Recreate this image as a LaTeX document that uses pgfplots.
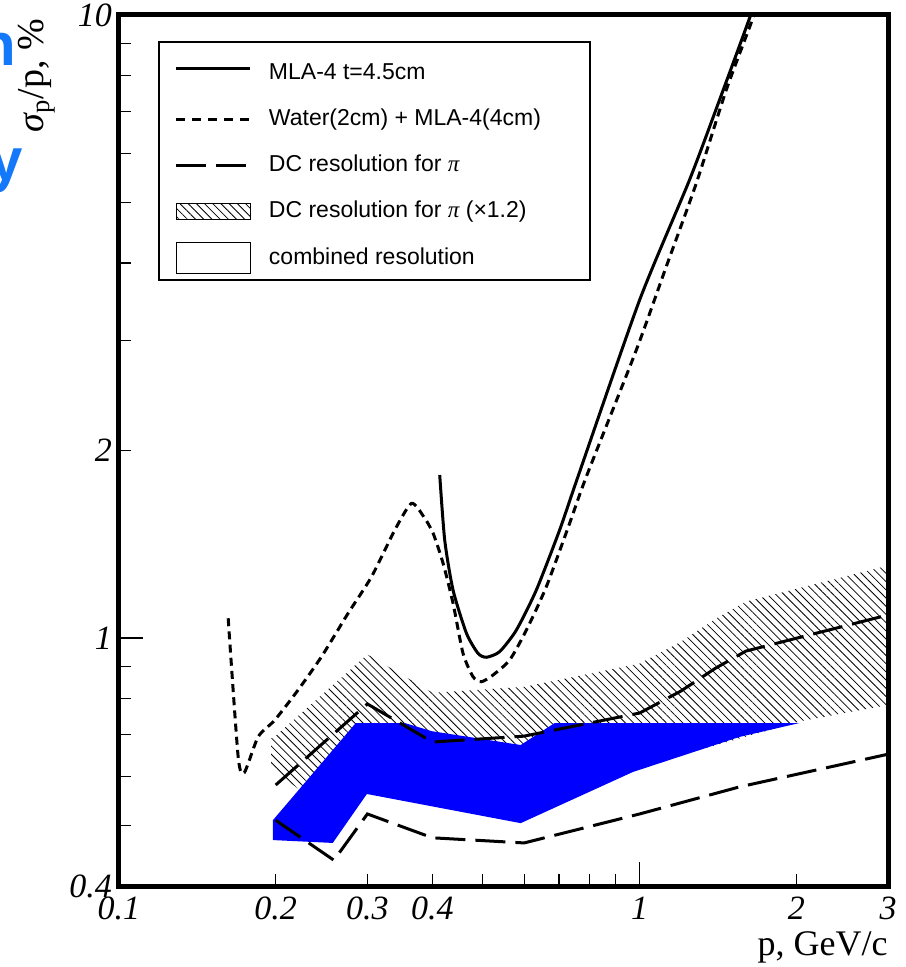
\documentclass[border=0pt]{standalone}
\usepackage{fontspec}
\setmainfont{Liberation Serif}
\newfontfamily\lsans{Liberation Sans}
\usepackage{pgfplots}
\pgfplotsset{compat=1.18}
\usetikzlibrary{patterns.meta}
\definecolor{fragblue}{RGB}{20,120,250}
\definecolor{pureblue}{RGB}{0,0,255}

\begin{document}
\begin{tikzpicture}
\useasboundingbox (-59.5pt,-40.5pt) rectangle (393pt,443pt);
\node[anchor=base east, inner sep=0pt, text=fragblue, font=\lsans\bfseries\fontsize{30}{30}\selectfont] at (-51pt,410pt) {n};
\node[anchor=base east, inner sep=0pt, text=fragblue, font=\lsans\bfseries\fontsize{30}{30}\selectfont] at (-48pt,352.5pt) {y};
\begin{axis}[
  xmode=log, ymode=log,
  scale only axis, width=384.5pt, height=435.5pt,
  xmin=0.1, xmax=3, ymin=0.4, ymax=10,
  axis line style={line width=2.5pt},
  tick style={line width=0.6pt, black},
  major tick length=6pt, minor tick length=6pt,
  tick pos=left,
  xtick={0.1,0.2,0.3,0.4,2,3}, xticklabels={0.1,0.2,0.3,0.4,2,3},
  minor xtick={0.5,0.6,0.7,0.8,0.9},
  extra x ticks={1}, extra x tick labels={1},
  extra x tick style={major tick length=12pt},
  ytick={0.4,2,10}, yticklabels={0.4,2,10},
  minor ytick={0.5,0.6,0.7,0.8,0.9,3,4,5,6,7,8,9},
  extra y ticks={1}, extra y tick labels={1},
  extra y tick style={major tick length=12pt},
  tick label style={font=\fontsize{17}{17}\selectfont\itshape},
  xticklabel style={yshift=-2pt},
  xlabel={p, GeV/c},
  every axis x label/.style={at={(axis description cs:1,-0.071)}, anchor=east, inner sep=0pt, font=\fontsize{18}{18}\selectfont},
  ylabel={{\itshape σ}\textsubscript{p}/p, \%},
  every axis y label/.style={at={(axis description cs:-0.107,0.996)}, rotate=90, anchor=east, inner sep=0pt, font=\fontsize{19}{19}\selectfont},
  legend style={at={(axis description cs:0.0507,0.970)}, anchor=north west,
    draw=black, line width=1pt, fill=white,
    font=\lsans\fontsize{11.5}{13}\selectfont,
    inner xsep=8pt, inner ysep=3pt, row sep=8pt, column sep=5pt,
    nodes={inner xsep=3.5pt, inner ysep=2pt, text height=8.5pt, text depth=2.5pt}},
  legend cell align=left,
]
% hatched band: DC resolution x1.2
\addplot[draw=none, pattern={Lines[angle=-45,distance=2.9pt,line width=0.4pt]}, forget plot]
  coordinates {(0.196,0.69) (0.2,0.697) (0.3,0.941) (0.4,0.817) (0.6,0.835) (1,0.91) (1.2,0.986) (1.4,1.074) (1.6,1.144) (3,1.307)
               (3,0.781) (2.03,0.735) (1.045,0.628) (0.59,0.55) (0.2225,0.5705) (0.196,0.619)} -- cycle;
% blue area
\addplot[fill=pureblue, draw=none, forget plot]
  coordinates {(0.1975,0.510) (0.285,0.7306) (0.354,0.7306) (0.3986,0.7089) (0.591,0.6735) (0.687,0.7306) (2.028,0.7306)
               (1.556,0.694) (0.970,0.6095) (0.591,0.5046) (0.2993,0.562) (0.2574,0.469) (0.1975,0.474)} -- cycle;
% MLA-4 t=4.5cm
\addplot[black, line width=1.5pt, smooth, tension=0.4, forget plot]
  coordinates {(0.4131,1.827) (0.4223,1.437) (0.4382,1.194) (0.4649,1.018) (0.4892,0.9453) (0.5077,0.9315) (0.5385,0.951)
               (0.5798,1.030) (0.6333,1.194) (0.7022,1.491) (0.7614,1.816) (1,3.488) (1.247,5.437) (1.424,7.306) (1.626,9.88) (1.66,10.5)};
% Water(2cm) + MLA-4(4cm)
\addplot[black, line width=1.5pt, dash pattern=on 4pt off 2.6pt, smooth, tension=0.4, forget plot]
  coordinates {(0.1621,1.076) (0.1694,0.645) (0.1740,0.6079) (0.1851,0.6945) (0.1992,0.7386) (0.2208,0.8254) (0.2449,0.9336)
               (0.2755,1.096) (0.3055,1.254) (0.3387,1.491) (0.3646,1.645) (0.385,1.566) (0.4012,1.473) (0.4193,1.318) (0.4382,1.137)
               (0.4579,0.9453) (0.4786,0.867) (0.4967,0.851) (0.5228,0.8723) (0.563,0.9223) (0.6061,1.03) (0.662,1.209) (0.7338,1.528)
               (0.7901,1.816) (0.9856,2.9) (1.125,3.946) (1.285,5.37) (1.467,7.58) (1.65,9.88) (1.68,10.5)};
% DC resolution for pi
\addplot[black, line width=1.5pt, dash pattern=on 15pt off 5pt, forget plot]
  coordinates {(0.2,0.581) (0.3,0.784) (0.4,0.681) (0.6,0.696) (1,0.758) (1.2,0.822) (1.4,0.895) (1.6,0.953) (3,1.089)};
% lower dashed curve
\addplot[black, line width=1.5pt, dash pattern=on 15pt off 5pt, forget plot]
  coordinates {(0.2,0.510) (0.2587,0.440) (0.3,0.522) (0.4,0.478) (0.6,0.469) (1,0.522) (1.556,0.577) (3,0.651)};
% legend
\addlegendimage{legend image code/.code={\draw[black, line width=1.5pt] (0pt,0pt) -- (37pt,0pt);}}
\addlegendentry[text height=13.5pt]{\makebox[149pt][l]{MLA-4 t=4.5cm}}
\addlegendimage{legend image code/.code={\draw[black, line width=1.5pt, dash pattern=on 4.5pt off 3.5pt] (0pt,0pt) -- (37pt,0pt);}}
\addlegendentry{Water(2cm) + MLA-4(4cm)}
\addlegendimage{legend image code/.code={\draw[black, line width=1.5pt, dash pattern=on 15pt off 5pt] (0pt,0pt) -- (37pt,0pt);}}
\addlegendentry{DC resolution for {\rmfamily\itshape π}}
\addlegendimage{legend image code/.code={\draw[black, line width=0.6pt, pattern={Lines[angle=-45,distance=2.9pt,line width=0.4pt]}] (0pt,-4pt) rectangle (37pt,4pt);}}
\addlegendentry{DC resolution for {\rmfamily\itshape π} (×1.2)}
\addlegendimage{legend image code/.code={\draw[black, line width=0.6pt, fill=white] (0pt,-7.75pt) rectangle (37pt,7.75pt);}}
\addlegendentry{combined resolution}
\end{axis}
\end{tikzpicture}
\end{document}
